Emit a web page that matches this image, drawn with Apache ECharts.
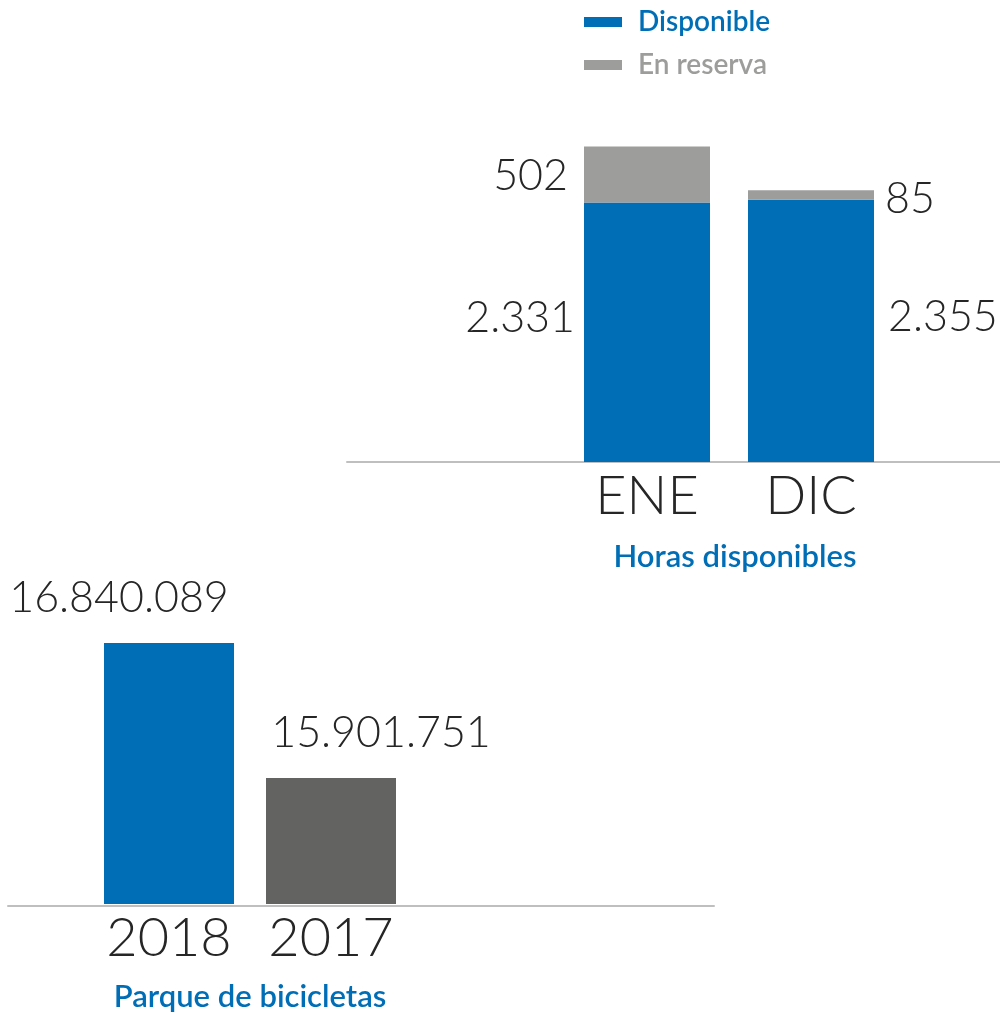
<!DOCTYPE html>
<html>
<head>
<meta charset="utf-8">
<script src="https://cdn.jsdelivr.net/npm/echarts@6/dist/echarts.min.js"></script>
<style>
html,body{margin:0;padding:0;background:#fff;}
#c{width:1000px;height:1013px;}
</style>
</head>
<body>
<div id="c"></div>
<script>
// ---- data ----
const hoursCategories = ['ENE', 'DIC'];
const hoursAvailable = [2331, 2355];
const hoursReserve = [502, 85];
const seriesNames = ['Disponible', 'En reserva'];
const hoursTitle = 'Horas disponibles';

const fleetCategories = ['2018', '2017'];
const fleetValues = [16840089, 15901751];
const fleetTitle = 'Parque de bicicletas';

// ---- style ----
const BLUE = '#006EB6';
const GRAY = '#9D9D9C';
const DARK = '#636362';
const TXT = '#262626';
const FONT = 'Lato';

function fmt(v) {
  return String(v).replace(/\B(?=(\d{3})+(?!\d))/g, '.');
}

const numLabel = {
  show: true,
  fontFamily: FONT,
  fontWeight: 300,
  fontSize: 43,
  color: TXT,
  formatter: p => fmt(p.value)
};

const chart = echarts.init(document.getElementById('c'));
chart.setOption({
  animation: false,
  legend: {
    orient: 'vertical',
    left: 584,
    top: 8,
    itemWidth: 38,
    itemHeight: 10,
    itemGap: 15,
    icon: 'rect',
    padding: 0,
    textStyle: { fontFamily: FONT, fontSize: 28, fontWeight: 600, padding: [0, 0, 0, 11] },
    data: [
      { name: seriesNames[0], textStyle: { color: BLUE } },
      { name: seriesNames[1], textStyle: { color: GRAY } }
    ]
  },
  grid: [
    { left: 565, width: 328, top: 128, height: 334 },
    { left: 347, width: 653, top: 128, height: 334 },
    { left: 88, width: 324, top: 620, height: 286 },
    { left: 8, width: 706, top: 620, height: 286 }
  ],
  xAxis: [
    {
      type: 'category', gridIndex: 0, data: hoursCategories,
      axisLine: { show: false }, axisTick: { show: false },
      axisLabel: { interval: 0, fontFamily: FONT, fontWeight: 300, fontSize: 54, color: TXT, margin: 8 },
      name: hoursTitle, nameLocation: 'middle', nameGap: 79,
      nameTextStyle: { fontFamily: FONT, fontWeight: 600, fontSize: 31, color: BLUE, padding: [0, 0, 0, 12] }
    },
    {
      type: 'value', gridIndex: 1, min: 0, max: 1,
      axisLine: { show: true, lineStyle: { color: '#BFBFBF', width: 2 } },
      axisTick: { show: false }, axisLabel: { show: false }, splitLine: { show: false }
    },
    {
      type: 'category', gridIndex: 2, data: fleetCategories,
      axisLine: { show: false }, axisTick: { show: false },
      axisLabel: { interval: 0, fontFamily: FONT, fontWeight: 300, fontSize: 54, color: TXT, margin: 8 },
      name: fleetTitle, nameLocation: 'middle', nameGap: 77,
      nameTextStyle: { fontFamily: FONT, fontWeight: 600, fontSize: 31, color: BLUE }
    },
    {
      type: 'value', gridIndex: 3, min: 0, max: 1,
      axisLine: { show: true, lineStyle: { color: '#BFBFBF', width: 2 } },
      axisTick: { show: false }, axisLabel: { show: false }, splitLine: { show: false }
    }
  ],
  yAxis: [
    { type: 'value', gridIndex: 0, min: 0, max: 3000, show: false },
    { type: 'value', gridIndex: 1, min: 0, max: 1, show: false },
    { type: 'value', gridIndex: 2, min: 15025000, max: 17000000, show: false },
    { type: 'value', gridIndex: 3, min: 0, max: 1, show: false }
  ],
  series: [
    {
      name: seriesNames[0], type: 'bar', stack: 'h', xAxisIndex: 0, yAxisIndex: 0,
      barWidth: 126, itemStyle: { color: BLUE },
      label: Object.assign({}, numLabel, { offset: [0, -14] }),
      data: hoursAvailable.map((v, i) => ({
        value: v,
        label: i === 0 ? { position: 'left', distance: 9 } : { position: 'right', distance: 14 }
      }))
    },
    {
      name: seriesNames[1], type: 'bar', stack: 'h', xAxisIndex: 0, yAxisIndex: 0,
      barWidth: 126, itemStyle: { color: GRAY },
      label: numLabel,
      data: hoursReserve.map((v, i) => ({
        value: v,
        label: i === 0 ? { position: 'left', distance: 16, offset: [0, 2] } : { position: 'right', distance: 11, offset: [0, 4] }
      }))
    },
    {
      name: 'fleet', type: 'bar', xAxisIndex: 2, yAxisIndex: 2,
      barWidth: 130,
      data: fleetValues.map((v, i) => ({
        value: v,
        itemStyle: { color: i === 0 ? BLUE : DARK },
        label: { offset: [i === 0 ? -50 : 50, -18] }
      })),
      label: Object.assign({}, numLabel, { position: 'top', fontSize: 43 })
    }
  ]
});
</script>
</body>
</html>
